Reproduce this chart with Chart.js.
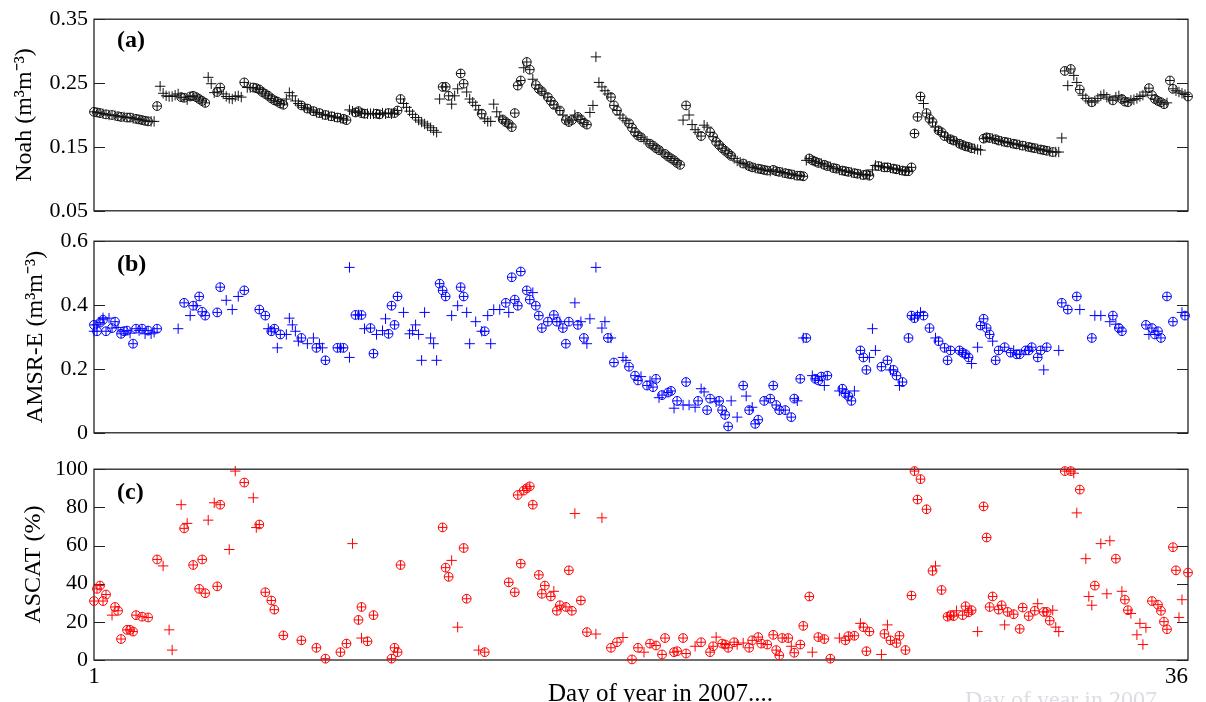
<!DOCTYPE html>
<html><head><meta charset="utf-8">
<script src="https://cdn.jsdelivr.net/npm/chart.js@4.4.1/dist/chart.umd.min.js"></script>
<style>
html,body{margin:0;padding:0;background:#fff;}
#wrap{position:relative;width:1206px;height:702px;overflow:hidden;background:#fff;}
canvas{position:absolute;left:0;}
</style></head><body>
<div id="wrap">
<canvas id="ca" style="top:0px" width="1206" height="230"></canvas>
<canvas id="cb" style="top:222px" width="1206" height="230"></canvas>
<canvas id="cc" style="top:450px" width="1206" height="252"></canvas>
</div>
<script>
// ---------------- DATA ----------------
const dayTickValues = [1, 365];
const dayTickLabels = ['1', '36\u2007\u2007'];

// (a) Noah, one value per day (day = index + 1)
const noahVals = [
 .205,.204,.203,.202,.201,.200,.200,.199,.198,.197,
 .197,.196,.196,.195,.194,.193,.192,.191,.190,.190,
 .190,.214,.245,.234,.230,.229,.229,.231,.233,.228,
 .227,.224,.229,.230,.228,.225,.222,.219,.259,.249,
 .235,.236,.243,.233,.229,.226,.225,.229,.230,.228,
 .251,.243,.243,.243,.242,.240,.236,.233,.230,.226,
 .223,.221,.218,.216,.225,.235,.230,.222,.218,.215,
 .212,.210,.208,.206,.204,.203,.201,.200,.199,.198,
 .197,.196,.195,.194,.192,.208,.206,.204,.206,.203,
 .202,.202,.202,.202,.202,.201,.203,.202,.203,.202,
 .203,.207,.225,.218,.212,.206,.201,.196,.192,.189,
 .186,.183,.180,.176,.173,.225,.244,.244,.230,.217,
 .230,.241,.265,.249,.236,.225,.220,.215,.208,.202,
 .194,.190,.190,.217,.205,.197,.193,.189,.186,.181,
 .203,.246,.254,.274,.283,.271,.256,.247,.241,.237,
 .233,.228,.222,.216,.211,.207,.200,.192,.189,.192,
 .200,.197,.193,.188,.185,.204,.215,.291,.251,.244,
 .238,.233,.228,.215,.207,.200,.195,.191,.187,.180,
 .173,.168,.165,.162,.159,.155,.152,.148,.145,.142,
 .139,.135,.132,.129,.125,.122,.192,.215,.200,.185,
 .177,.173,.167,.184,.181,.173,.166,.158,.153,.148,
 .144,.140,.136,.132,.128,.126,.124,.122,.120,.118,
 .117,.116,.115,.114,.113,.112,.114,.112,.111,.110,
 .109,.108,.107,.106,.105,.105,.104,.129,.132,.129,
 .127,.125,.124,.122,.120,.119,.117,.116,.114,.113,
 .112,.111,.110,.109,.108,.107,.106,.107,.105,.114,
 .121,.120,.119,.118,.118,.117,.116,.115,.114,.113,
 .112,.112,.118,.171,.197,.229,.218,.203,.194,.189,
 .181,.176,.173,.167,.165,.162,.160,.158,.155,.153,
 .151,.150,.148,.147,.146,.145,.163,.165,.164,.163,
 .162,.160,.159,.158,.157,.156,.155,.154,.153,.152,
 .151,.150,.149,.148,.147,.146,.145,.144,.143,.142,
 .142,.142,.164,.269,.246,.272,.262,.251,.240,.231,
 .226,.222,.220,.222,.226,.230,.232,.228,.225,.223,
 .228,.230,.225,.221,.220,.223,.224,.226,.229,.231,
 .236,.242,.231,.225,.222,.220,.217,.219,.254,.241,
 .238,.236,.234,.232,.229
];
// marker per day: o = circled plus, + = plain plus
const noahMarks = (
 "ooo+o+o+oo +oo+ooooo+ +o+++++++o o+oooooo++ +oo+++++++ " +
 "o++ooooooo oooo+++++o +o+o+o+o+o +o+oo++ooo o+++oo++o+ " +
 "ooo+++++++ ++++++ooo+ ++oo+++++o ++++++oooo ooo+oo+ooo " +
 "+ooo+o+ooo +oooo+++++ ++ooo+++oo ooo++oooo+ oooooo+o++ " +
 "++o++ooooo ooo+++o+oo +oooo+ooo+ ooo+ooo+oo oo+oo+oo+o " +
 "oo+oo+ooo+ +o+oo+oo+o oooooo+ooo +ooo+oo+oo ooo+++ooo+ " +
 "oo+oo+oo+o +ooo+ooo+o +++o+o++o+ ++o++++++o ++ooo+++++ " +
 "+oooooo+oo ++++o").replace(/ /g, '');

// (b) AMSR-E
const amsrCircleDays = [1,2,3,4,5,7,8,10,11,12,14,15,17,19,22,31,34,36,37,38,42,43,51,56,58,60,61,63,70,75,78,82,84,88,90,93,94,99,100,101,102,116,117,118,123,124,131,138,140,141,142,143,145,146,148,149,150,152,154,155,157,158,159,162,164,172,174,179,181,182,185,187,188,190,192,193,195,198,202,205,206,209,210,211,212,217,219,221,222,224,226,227,228,229,231,233,234,236,238,241,242,243,245,250,251,252,253,256,257,258,263,265,267,268,270,272,273,274,277,279,282,284,285,286,289,290,291,292,296,297,298,299,301,302,304,306,308,309,311,312,313,315,316,318,323,325,328,333,340,342,343,351,353,354,355,356,358,360,364];
const amsrCircleVals = [.338,.318,.345,.354,.318,.328,.348,.310,.318,.320,.279,.326,.326,.320,.326,.407,.398,.427,.379,.367,.377,.456,.446,.386,.367,.318,.326,.308,.297,.266,.227,.266,.266,.369,.369,.328,.248,.310,.398,.338,.427,.467,.446,.427,.456,.427,.318,.407,.487,.417,.398,.505,.446,.417,.398,.367,.328,.348,.369,.348,.328,.279,.348,.338,.297,.297,.220,.207,.179,.164,.148,.143,.169,.118,.126,.131,.100,.159,.100,.071,.107,.100,.071,.056,.020,.148,.071,.028,.041,.100,.107,.148,.087,.071,.071,.049,.107,.169,.297,.169,.164,.176,.179,.138,.123,.115,.100,.258,.236,.197,.207,.227,.197,.179,.159,.297,.367,.359,.367,.328,.287,.266,.227,.258,.258,.251,.246,.236,.336,.357,.328,.308,.227,.258,.268,.251,.246,.246,.258,.258,.268,.236,.258,.268,.407,.386,.427,.297,.367,.328,.318,.338,.328,.308,.318,.297,.427,.348,.367];
const amsrPlusDays = [1,2,4,6,9,13,16,18,20,21,29,33,35,45,47,49,59,62,65,66,67,68,69,72,74,76,77,83,86,86,89,91,95,97,98,104,106,107,108,109,110,111,113,114,115,120,122,125,126,128,130,132,133,134,136,139,147,156,161,163,165,166,168,170,171,173,177,178,183,186,189,194,197,199,201,203,204,208,213,215,218,220,235,237,240,244,249,254,259,260,261,266,269,275,276,281,293,295,300,307,317,322,329,334,336,339,341,352,363];
const amsrPlusVals = [.318,.338,.360,.359,.330,.312,.320,.310,.310,.315,.326,.367,.398,.415,.386,.427,.326,.266,.308,.359,.338,.318,.287,.279,.297,.279,.266,.266,.236,.518,.369,.326,.308,.320,.357,.377,.310,.320,.338,.308,.227,.377,.297,.279,.227,.367,.398,.377,.279,.348,.318,.367,.279,.386,.386,.377,.439,.348,.407,.348,.279,.357,.518,.328,.348,.297,.236,.227,.176,.162,.110,.077,.087,.087,.080,.138,.128,.097,.100,.049,.115,.080,.100,.297,.179,.148,.131,.131,.236,.326,.258,.197,.148,.367,.377,.297,.217,.268,.287,.258,.197,.258,.386,.367,.367,.348,.340,.308,.377];

// (c) ASCAT
const ascatCircleDays = [1,2,3,4,5,8,9,10,12,13,14,15,17,19,22,31,34,36,37,38,42,43,51,56,58,60,61,64,70,75,78,83,85,89,90,92,94,100,101,102,103,117,118,119,124,125,131,139,141,142,143,144,145,146,147,149,150,151,153,155,156,158,159,160,163,165,173,175,180,182,186,188,190,191,194,195,197,198,203,206,207,210,211,212,214,219,220,222,223,225,227,228,229,230,232,234,236,237,239,242,244,246,251,252,254,257,258,259,264,266,268,269,271,273,274,275,276,278,280,283,285,286,287,290,291,292,293,297,298,299,300,302,303,305,307,309,310,312,314,317,318,319,324,326,329,334,341,344,345,353,355,356,357,358,360,361,365];
const ascatCircleVals = [30.9,37.3,39.0,30.9,34.3,27.8,25.8,11.0,15.8,15.8,14.9,23.5,22.7,22.3,52.7,69.0,49.8,37.3,52.7,35.0,38.6,81.4,93.0,71.0,35.5,31.2,26.4,12.9,10.3,6.4,0.7,4.1,8.6,21.0,27.8,9.8,23.5,0.7,6.4,4.1,49.8,69.5,48.4,43.6,58.7,32.1,4.1,40.7,35.5,86.5,50.5,88.8,90.0,91.0,81.4,44.6,34.7,39.0,33.3,25.8,28.7,27.8,47.0,25.8,31.2,14.6,6.4,9.3,0.3,6.4,8.6,7.6,2.9,11.5,4.1,4.6,11.5,3.4,9.3,4.1,7.2,8.6,8.1,6.4,9.3,6.4,10.3,12.0,8.6,8.1,13.2,5.2,2.4,11.5,11.5,3.8,8.1,17.9,33.3,12.0,11.0,0.7,10.3,12.5,12.7,17.2,4.6,14.9,13.7,10.3,8.9,12.7,5.2,33.8,99.0,84.1,94.8,79.0,46.7,36.7,22.7,23.5,23.0,23.5,28.2,25.0,26.1,80.5,64.2,27.8,33.3,26.4,28.7,25.2,24.0,16.3,27.5,23.0,25.8,25.2,25.2,20.6,99.0,99.0,89.3,39.0,53.1,31.6,26.1,30.9,29.0,25.8,20.1,16.1,59.1,47.0,45.8];
const ascatPlusDays = [7,24,26,27,30,32,39,41,46,48,54,55,87,90,120,122,129,154,161,168,170,177,184,201,208,215,217,233,240,249,256,263,265,281,288,295,304,315,320,321,322,327,328,331,332,333,336,338,339,343,346,348,349,350,351,362,363];
const ascatPlusVals = [23.5,49.3,15.8,5.2,81.4,71.6,73.3,82.4,57.9,99.0,85.0,69.4,61.0,11.5,52.2,17.2,5.2,36.0,76.8,13.6,74.5,11.8,4.1,7.2,12.0,8.1,8.9,7.2,4.1,11.5,19.2,2.9,18.4,49.3,25.8,14.9,18.4,29.5,26.1,17.2,14.9,97.9,77.1,53.1,33.3,28.7,61.0,34.7,62.5,36.0,24.4,13.2,19.2,8.1,17.0,22.3,31.6];

const noahTicks = [0.05, 0.15, 0.25, 0.35];
const noahTickLabels = ['0.05', '0.15', '0.25', '0.35'];
const amsrTicks = [0, 0.2, 0.4, 0.6];
const amsrTickLabels = ['0', '0.2', '0.4', '0.6'];
const ascatTicks = [0, 20, 40, 60, 80, 100];
const ascatTickLabels = ['0', '20', '40', '60', '80', '100'];

// ---------------- DRAWING ----------------
const SERIF = '"Liberation Serif", "Times New Roman", serif';

const panelPlugin = {
  id: 'panelDeco',
  beforeDatasetsDraw(chart) {
    const ctx = chart.ctx, a = chart.chartArea;
    const ys = chart.scales.y;
    ctx.save();
    ctx.strokeStyle = '#222';
    ctx.lineWidth = 1.3;
    ctx.strokeRect(a.left, a.top, a.right - a.left, a.bottom - a.top);
    ctx.lineWidth = 1.2;
    ys.ticks.forEach(t => {
      const y = Math.round(ys.getPixelForValue(t.value)) + 0.5;
      ctx.beginPath();
      ctx.moveTo(a.left, y); ctx.lineTo(a.left + 11, y);
      ctx.moveTo(a.right, y); ctx.lineTo(a.right - 11, y);
      ctx.stroke();
    });
    ctx.restore();
  },
  afterDraw(chart) {
    const texts = (chart.options.plugins.panelDeco || {}).texts || [];
    const ctx = chart.ctx;
    ctx.save();
    texts.forEach(t => {
      ctx.font = t.font;
      ctx.fillStyle = t.color;
      ctx.textAlign = 'left';
      ctx.textBaseline = 'alphabetic';
      ctx.fillText(t.text, t.x, t.y);
    });
    ctx.restore();
  }
};

function makePanel(id, cfg) {
  const circles = cfg.circles, pluses = cfg.pluses;
  const common = { showLine: false, clip: false, pointBorderWidth: 1,
    pointBorderColor: cfg.color, pointBackgroundColor: 'rgba(0,0,0,0)' };
  return new Chart(document.getElementById(id), {
    type: 'scatter',
    data: { datasets: [
      Object.assign({ data: circles, pointStyle: 'circle', pointRadius: 4.4 }, common),
      Object.assign({ data: circles, pointStyle: 'cross', pointRadius: 4.4 }, common),
      Object.assign({ data: pluses, pointStyle: 'cross', pointRadius: 5.2 }, common)
    ]},
    options: {
      responsive: false, animation: false, devicePixelRatio: 1, events: [],
      layout: { padding: cfg.padding },
      plugins: { legend: { display: false }, tooltip: { enabled: false },
        panelDeco: { texts: cfg.texts } },
      scales: {
        x: {
          type: 'linear', min: 1, max: 365, display: cfg.showX,
          afterBuildTicks: s => { s.ticks = dayTickValues.map(v => ({ value: v })); },
          afterFit: s => { if (cfg.showX) { s.height = cfg.xHeight; s.paddingLeft = 0; s.paddingRight = 0; } },
          grid: { display: false, drawTicks: false }, border: { display: false },
          ticks: { autoSkip: false, maxRotation: 0, padding: 3, color: '#000',
            font: { family: SERIF, size: 23 },
            callback: v => dayTickLabels[dayTickValues.indexOf(v)] }
        },
        y: {
          min: cfg.yMin, max: cfg.yMax,
          afterBuildTicks: s => { s.ticks = cfg.yTicks.map(v => ({ value: v })); },
          afterFit: s => { s.width = 94; },
          grid: { display: false, drawTicks: false }, border: { display: false },
          ticks: { padding: 6, color: '#000', font: { family: SERIF, size: 22 },
            callback: v => cfg.yTickLabels[cfg.yTicks.indexOf(v)] },
          title: { display: true, text: cfg.yTitle, color: '#000',
            font: { family: SERIF, size: 24 }, padding: { top: cfg.titlePad, bottom: 0 } }
        }
      }
    },
    plugins: [panelPlugin]
  });
}

const noahCircles = [], noahPluses = [];
noahVals.forEach((v, i) => {
  const p = { x: i + 1, y: v };
  if (noahMarks[i] === 'o') noahCircles.push(p); else noahPluses.push(p);
});
const toPts = (d, v) => d.map((x, i) => ({ x: x, y: v[i] }));

makePanel('ca', {
  circles: noahCircles, pluses: noahPluses, color: '#111',
  yMin: 0.05, yMax: 0.35, yTicks: noahTicks, yTickLabels: noahTickLabels,
  yTitle: 'Noah (m³m⁻³)', titlePad: 10, showX: false,
  padding: { top: 18, bottom: 19, left: 0, right: 18 },
  texts: [{ text: '(a)', x: 117, y: 47, font: 'bold 24px ' + SERIF, color: '#000' }]
});
makePanel('cb', {
  circles: toPts(amsrCircleDays, amsrCircleVals), pluses: toPts(amsrPlusDays, amsrPlusVals),
  color: '#0000ff',
  yMin: 0, yMax: 0.6, yTicks: amsrTicks, yTickLabels: amsrTickLabels,
  yTitle: 'AMSR-E (m³m⁻³)', titlePad: 21, showX: false,
  padding: { top: 19, bottom: 17, left: 0, right: 18 },
  texts: [{ text: '(b)', x: 117, y: 49, font: 'bold 24px ' + SERIF, color: '#000' }]
});
makePanel('cc', {
  circles: toPts(ascatCircleDays, ascatCircleVals), pluses: toPts(ascatPlusDays, ascatPlusVals),
  color: '#ff0000',
  yMin: 0, yMax: 100, yTicks: ascatTicks, yTickLabels: ascatTickLabels,
  yTitle: 'ASCAT (%)', titlePad: 19, showX: true, xHeight: 42,
  padding: { top: 17, bottom: 0, left: 0, right: 18 },
  texts: [
    { text: '(c)', x: 117, y: 49, font: 'bold 24px ' + SERIF, color: '#000' },
    { text: 'Day of year in 2007....', x: 548, y: 251, font: '25px ' + SERIF, color: '#000' },
    { text: 'Day of year in 2007', x: 965, y: 257, font: '24px ' + SERIF, color: '#dcdce4' }
  ]
});
</script>
</body></html>
